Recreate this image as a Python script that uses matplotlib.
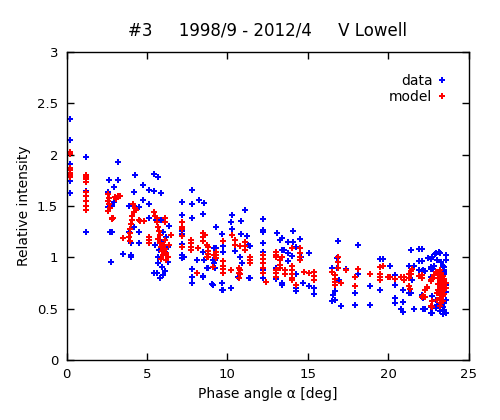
import numpy as np
import matplotlib
matplotlib.use("Agg")
import matplotlib.pyplot as plt

plt.rcParams['font.family'] = 'DejaVu Sans'

# observed relative intensities (blue)
data_x = [0.2, 0.2, 0.2, 0.2, 0.2, 0.2,
          1.2, 1.2, 1.2, 1.2, 1.2,
          2.65, 3.2, 3.2, 2.96, 2.56, 2.56, 2.85, 2.96, 2.71, 2.85, 2.75,
          4.27, 5.46, 5.7, 4.77, 4.2, 5.14, 5.46, 5.9, 4.77, 5.14, 3.9, 4.2, 4.5,
          5.14, 5.56, 5.9, 6.4, 7.19, 7.2, 4.2, 4.5, 3.9, 7.2, 7.2, 4.5, 4.0,
          3.5, 4.0, 4.0, 5.5, 5.75, 6.1, 5.67, 5.96, 6.1, 5.46, 5.6, 6.0, 5.8,
          7.2, 7.2, 6.2, 6.3, 5.9, 6.0, 6.3, 5.7,
          7.8, 8.27, 8.58, 7.8, 8.5, 7.8, 7.2, 9.27, 7.3, 8.1, 8.56, 8.5, 9.1,
          9.27, 9.25, 9.7, 9.75, 9.75, 10.3, 10.25, 10.83, 11.1, 10.83, 11.2,
          11.4, 10.5, 10.8, 10.9, 7.8, 7.8, 7.8, 8.5, 8.83, 9.1, 9.75, 10.25,
          11.4, 7.2, 10.3, 11.3, 9.7, 9.7, 10.65, 11.35, 9.05, 8.5, 8.75, 9.2,
          9.2, 9.25,
          12.2, 12.2, 12.2, 12.2, 12.2, 12.2, 12.2, 13.1, 13.3, 13.4, 14.1, 14.5,
          13.8, 14.1, 13.4, 13.5, 13.8, 14.3, 14.0, 14.6, 13.75, 13.0, 13.0,
          13.4, 13.4, 14.3, 14.7, 14.3, 14.3, 15.1, 15.1, 15.4, 15.4, 16.9,
          16.8, 16.5, 16.8, 16.95, 16.7, 16.6, 16.5, 16.7, 17.1, 17.4, 18.1,
          18.1, 17.96, 17.96,
          18.9, 18.9, 19.5, 19.7, 20.1, 19.5, 20.4, 20.4, 20.4, 20.4, 20.9,
          20.8, 20.9, 20.9, 21.3, 21.4, 21.6, 21.5, 21.4, 21.3, 21.6, 22.1,
          22.1, 22.1, 22.3, 22.1, 22.2, 22.3, 22.65, 22.75, 22.9, 23.0, 23.2,
          22.65, 22.8, 22.65, 22.75, 22.65, 22.75, 23.0,
          23.15, 23.05, 23.4, 23.46, 23.46, 23.46, 23.2, 23.4, 23.57, 23.4,
          23.57, 23.4, 23.46, 23.4, 23.57, 23.05, 22.95, 22.64, 22.85, 22.5,
          22.7, 21.95, 21.95, 21.95, 22.2, 22.2, 22.64, 23.57, 23.6, 23.6,
          23.6, 23.3, 23.5, 23.3, 23.5, 23.2]
data_y = [2.35, 2.14, 1.91, 1.78, 1.74, 1.63,
          1.98, 1.80, 1.65, 1.50, 1.25,
          1.75, 1.93, 1.75, 1.69, 1.64, 1.49, 1.50, 1.54, 1.25, 1.25, 0.95,
          1.80, 1.81, 1.78, 1.70, 1.64, 1.66, 1.65, 1.63, 1.56, 1.52, 1.50, 1.50, 1.49,
          1.38, 1.36, 1.36, 1.31, 1.54, 1.41, 1.30, 1.25, 1.25, 1.30, 1.23, 1.14, 1.14,
          1.03, 1.02, 1.00, 1.12, 1.07, 1.05, 0.94, 0.91, 0.87, 0.85, 0.85, 0.83, 0.80,
          1.02, 0.99, 1.20, 1.10, 1.15, 1.25, 0.95, 1.00,
          1.66, 1.56, 1.53, 1.52, 1.42, 1.38, 1.26, 1.30, 1.00, 0.97, 0.97, 1.05, 0.97,
          1.09, 0.90, 1.23, 1.11, 1.05, 1.41, 1.34, 1.35, 1.46, 1.23, 1.21,
          1.11, 1.06, 1.00, 0.94, 0.89, 0.81, 0.75, 0.81, 0.90, 0.73, 0.68, 0.70,
          0.80, 1.13, 1.28, 1.12, 0.75, 0.68, 0.81, 0.80, 0.74, 0.82, 0.90, 0.94,
          1.09, 0.97,
          1.37, 1.27, 1.25, 1.14, 1.05, 0.88, 0.80, 1.24, 1.17, 1.19, 1.26, 1.18,
          1.15, 1.15, 1.07, 1.07, 1.04, 1.10, 1.01, 1.00, 0.96, 0.90, 0.79,
          0.75, 0.73, 0.84, 0.75, 0.70, 0.67, 1.04, 0.72, 0.70, 0.64, 1.16,
          0.99, 0.90, 0.90, 0.78, 0.67, 0.63, 0.57, 0.58, 0.53, 0.89, 1.12,
          0.84, 0.65, 0.54,
          0.54, 0.72, 0.98, 0.98, 0.92, 0.68, 0.83, 0.73, 0.60, 0.55, 0.68,
          0.50, 0.47, 0.56, 0.92, 1.07, 0.92, 0.78, 0.65, 0.65, 0.50, 1.08,
          0.96, 0.87, 0.87, 0.63, 0.60, 0.50, 0.98, 1.00, 1.03, 1.04, 1.04,
          0.91, 0.89, 0.81, 0.62, 0.52, 0.46, 0.51,
          1.05, 0.97, 0.92, 0.91, 0.88, 0.84, 0.83, 0.78, 0.73, 0.63,
          0.58, 0.52, 0.49, 0.45, 0.46, 0.54, 0.58, 0.89, 0.92, 0.99,
          1.00, 1.08, 0.96, 0.88, 0.88, 0.50, 0.46, 1.02, 0.97, 0.70,
          0.66, 0.95, 0.86, 0.60, 0.55, 0.48]

# model relative intensities (red)
model_x = [0.2, 0.2, 0.2, 0.2, 0.2, 0.2, 0.2,
           1.2, 1.2, 1.2, 1.2, 1.2, 1.2, 1.2, 1.2, 1.2,
           2.6, 2.65, 2.6, 2.65, 2.7, 2.6, 2.85, 2.8, 2.9, 3.0, 3.1, 3.2, 3.3,
           4.25, 4.2, 4.1, 4.05, 4.0, 3.95, 3.95, 3.9, 3.95, 4.3, 4.15, 4.5, 4.6,
           4.8, 3.5, 5.14, 5.14, 5.14, 5.46, 5.6, 5.65, 5.7, 5.75, 5.8, 5.7, 5.8,
           5.9, 5.95, 6.0, 5.9, 6.05, 6.15, 6.2, 6.3, 6.2, 6.1, 6.1, 6.1, 6.5,
           7.2, 7.2, 7.2, 7.2, 6.4, 5.5,
           7.2, 7.75, 7.75, 7.75, 7.75, 8.2, 8.5, 8.5, 8.5, 8.8, 8.8, 8.8, 8.8,
           9.27, 9.27, 9.27, 9.1, 8.1, 9.75, 9.75, 9.75, 9.75, 9.75, 10.3, 10.25,
           10.5, 10.5, 10.8, 10.7, 10.7, 10.7, 11.1, 11.1, 11.1, 11.4, 11.4, 11.4,
           8.6, 8.75, 8.75, 9.2, 10.8, 10.8,
           12.2, 12.2, 12.2, 12.2, 12.2, 12.4, 13.0, 13.0, 13.0, 13.0, 13.0, 13.0,
           13.3, 13.3, 13.3, 13.4, 13.6, 13.6, 14.0, 14.0, 14.0, 14.0, 14.0, 14.0,
           14.5, 14.5, 14.5, 14.5, 14.3, 14.8, 15.1, 15.4, 15.4, 15.4, 16.5, 16.7,
           16.7, 16.7, 16.7, 16.9, 16.9, 16.9, 17.1, 17.4, 17.96, 18.1, 17.96,
           18.9, 19.5, 19.5, 19.5, 19.5, 19.7, 20.0, 20.1, 20.4, 20.8, 21.0, 21.0,
           21.3, 21.3, 21.5, 21.4, 21.4, 21.3, 21.35, 22.1, 22.1, 22.2, 22.3, 22.3,
           22.4, 22.75, 22.75, 22.65, 22.7, 21.9, 22.1, 22.4, 22.64, 22.64, 22.85,
           22.95, 23.05, 23.05,
           23.1, 23.1, 23.1, 23.1, 23.2, 23.2, 23.2, 23.2, 23.2, 23.2, 23.2, 23.2,
           23.3, 23.3, 23.3, 23.3, 23.3, 23.3, 23.3, 23.4, 23.4, 23.4, 23.4, 23.4,
           23.4, 23.5, 23.5, 23.5, 23.5, 23.6, 23.6]
model_y = [2.03, 2.01, 1.87, 1.85, 1.82, 1.80, 1.78,
           1.80, 1.78, 1.76, 1.73, 1.64, 1.60, 1.55, 1.50, 1.46,
           1.62, 1.58, 1.55, 1.52, 1.48, 1.45, 1.38, 1.37, 1.38, 1.59, 1.57, 1.60, 1.60,
           1.48, 1.44, 1.40, 1.36, 1.32, 1.28, 1.24, 1.20, 1.16, 1.46, 1.52, 1.36, 1.35,
           1.35, 1.19, 1.20, 1.17, 1.14, 1.44, 1.38, 1.34, 1.30, 1.26, 1.22, 1.18, 1.14,
           1.10, 1.06, 1.02, 0.98, 1.12, 1.08, 1.04, 1.00, 0.97, 1.17, 1.38, 1.34, 1.22,
           1.34, 1.30, 1.21, 1.10, 1.12, 1.40,
           1.28, 1.17, 1.14, 1.10, 1.07, 1.09, 1.24, 1.20, 1.16, 1.10, 1.06, 1.03, 1.00,
           1.05, 1.02, 0.99, 0.91, 0.85, 1.16, 0.96, 0.92, 0.89, 0.85, 1.22, 0.88,
           1.17, 1.12, 1.11, 0.90, 0.85, 0.80, 1.15, 1.11, 1.07, 1.00, 0.97, 0.94,
           1.22, 1.12, 1.00, 1.02, 0.88, 0.84,
           1.02, 0.98, 0.94, 0.90, 0.85, 0.76, 1.05, 1.02, 1.00, 0.88, 0.85, 0.81,
           0.97, 0.93, 0.90, 1.00, 0.88, 0.84, 0.92, 0.88, 0.84, 0.80, 0.78, 1.09,
           1.09, 1.04, 1.00, 0.97, 0.73, 0.86, 0.85, 0.86, 0.82, 0.78, 0.86, 0.83,
           0.79, 0.76, 0.73, 1.00, 0.95, 0.90, 0.75, 0.88, 0.81, 0.89, 0.72,
           0.84, 0.91, 0.84, 0.81, 0.78, 0.92, 0.81, 0.81, 0.79, 0.81, 0.81, 0.78,
           0.80, 0.84, 0.89, 0.87, 0.84, 0.72, 0.69, 0.83, 0.80, 0.62, 0.61, 0.68,
           0.70, 0.52, 0.57, 0.78, 0.79, 0.82, 0.61, 0.71, 0.77, 0.53, 0.83,
           0.86, 0.65, 0.58,
           0.86, 0.80, 0.74, 0.68, 0.88, 0.83, 0.78, 0.73, 0.68, 0.63, 0.58, 0.53,
           0.85, 0.80, 0.75, 0.70, 0.65, 0.60, 0.55, 0.82, 0.77, 0.72, 0.67, 0.62,
           0.57, 0.79, 0.74, 0.69, 0.64, 0.75, 0.70]

title = "#3     1998/9 - 2012/4     V Lowell"

fig = plt.figure(figsize=(5, 4.2), dpi=100)
ax = fig.add_axes([0.133, 0.143, 0.804, 0.733])

# data first, model drawn on top
ax.plot(data_x, data_y, 'P', color='#0000ff', markersize=5, markeredgewidth=0,
        linestyle='none', label='data')
ax.plot(model_x, model_y, 'P', color='#ff0000', markersize=5, markeredgewidth=0,
        linestyle='none', label='model')

ax.set_xlim(0, 25)
ax.set_ylim(0, 3)
ax.set_xticks(np.arange(0, 26, 5))
ax.set_yticks(np.arange(0, 3.01, 0.5))
ax.set_yticklabels(['0', '0.5', '1', '1.5', '2', '2.5', '3'])
ax.tick_params(direction='in', top=True, right=True, length=5, width=1,
               labelsize=9.5, pad=6)
for s in ax.spines.values():
    s.set_linewidth(1)

ax.set_xlabel("Phase angle α [deg]", fontsize=10)
ax.set_ylabel("Relative intensity", fontsize=10)
ax.set_title(title, fontsize=12, pad=12)

ax.legend(loc='upper right', frameon=False, markerfirst=False, fontsize=10,
          handlelength=0.6, handletextpad=0.4, labelspacing=0.1,
          borderaxespad=1.2)

fig.savefig("out.png", dpi=100)
